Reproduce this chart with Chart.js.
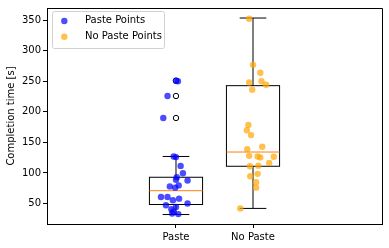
<!DOCTYPE html>
<html>
<head>
<meta charset="utf-8">
<script src="https://cdn.jsdelivr.net/npm/chart.js@4"></script>
<style>
  html, body { margin: 0; padding: 0; background: #fff; }
  #wrap { width: 389px; height: 248px; }
</style>
</head>
<body>
<div id="wrap"><canvas id="chart" width="389" height="248"></canvas></div>
<script>
const categories = ['Paste', 'No Paste'];
const yTicks = [50, 100, 150, 200, 250, 300, 350];

// completion times and horizontal jitter (in category units)
const pasteTimes = [127, 126, 111.6, 99.6, 93, 89, 87.8, 79.7, 78, 76, 60.7, 60.7, 58, 55.4, 47.3, 50, 44.5, 40.8, 36.5, 32.7, 33.8, 251, 250, 226, 190];
const pasteJitter = [-0.03, 0.0, 0.06, 0.09, 0.01, 0.0, 0.15, 0.035, -0.08, -0.01, -0.195, -0.11, 0.04, -0.04, -0.13, 0.15, 0.0, -0.06, -0.035, 0.03, -0.05, 0.0, 0.025, -0.11, -0.165];
const noPasteTimes = [352.4, 277, 264, 248, 250, 244.5, 236.4, 178.5, 170, 162, 139, 143, 128, 127, 125.5, 126.6, 116.5, 111, 112, 94.7, 98.6, 85, 76, 42];
const noPasteJitter = [-0.05, 0.0, 0.095, -0.05, 0.11, 0.17, -0.01, -0.06, -0.08, -0.025, -0.075, 0.12, -0.05, 0.06, 0.095, 0.27, 0.21, -0.04, 0.07, -0.035, 0.06, 0.04, 0.04, -0.165];

// box statistics per category
const boxQ1 = [48.4, 111];
const boxMedian = [71, 134.3];
const boxQ3 = [93, 242.9];
const whiskerLow = [32, 42];
const whiskerHigh = [127, 353.6];
const fliers = [[190, 226, 251], []];

const toPoints = (times, jitter, pos) => times.map((t, i) => ({ x: pos + jitter[i], y: t }));
const flierPoints = [];
fliers.forEach((list, i) => list.forEach(v => flierPoints.push({ x: i + 1, y: v })));

const FONT = 'DejaVu Sans';

const boxPlugin = {
  id: 'boxes',
  beforeDatasetsDraw(chart) {
    const ctx = chart.ctx, xs = chart.scales.x, ys = chart.scales.y;
    const halfBox = 0.345, halfCap = 0.173;
    ctx.save();
    ctx.lineWidth = 1;
    categories.forEach((c, i) => {
      const pos = i + 1;
      const xl = xs.getPixelForValue(pos - halfBox), xr = xs.getPixelForValue(pos + halfBox);
      const xc = xs.getPixelForValue(pos);
      const cl = xs.getPixelForValue(pos - halfCap), cr = xs.getPixelForValue(pos + halfCap);
      const q1 = ys.getPixelForValue(boxQ1[i]), q3 = ys.getPixelForValue(boxQ3[i]);
      const med = ys.getPixelForValue(boxMedian[i]);
      const lo = ys.getPixelForValue(whiskerLow[i]), hi = ys.getPixelForValue(whiskerHigh[i]);
      ctx.strokeStyle = '#000';
      ctx.strokeRect(xl, q3, xr - xl, q1 - q3);
      ctx.beginPath();
      ctx.moveTo(xc, q3); ctx.lineTo(xc, hi);
      ctx.moveTo(xc, q1); ctx.lineTo(xc, lo);
      ctx.moveTo(cl, hi); ctx.lineTo(cr, hi);
      ctx.moveTo(cl, lo); ctx.lineTo(cr, lo);
      ctx.stroke();
      ctx.strokeStyle = '#ff7f0e';
      ctx.beginPath();
      ctx.moveTo(xl, med); ctx.lineTo(xr, med);
      ctx.stroke();
    });
    ctx.restore();
  },
  afterDraw(chart) {
    const ctx = chart.ctx, a = chart.chartArea;
    ctx.save();
    // top and right spines
    ctx.strokeStyle = '#000';
    ctx.lineWidth = 1;
    ctx.beginPath();
    ctx.moveTo(a.left, a.top + 0.5); ctx.lineTo(a.right + 0.5, a.top + 0.5);
    ctx.lineTo(a.right + 0.5, a.bottom);
    ctx.stroke();
    // legend in upper-left
    const lx = 52.5, ly = 11.5, lw = 112, lh = 37;
    ctx.fillStyle = 'rgba(255,255,255,0.8)';
    ctx.strokeStyle = '#d0d0d0';
    ctx.beginPath();
    ctx.roundRect(lx, ly, lw, lh, 2);
    ctx.fill(); ctx.stroke();
    const items = chart.data.datasets.filter(d => d.showInLegend);
    ctx.font = '10px "' + FONT + '"';
    ctx.textBaseline = 'middle';
    items.forEach((d, i) => {
      const y = 20.5 + i * 15.7;
      ctx.fillStyle = d.backgroundColor;
      ctx.beginPath();
      ctx.arc(64.3, y + 0.5, 3.2, 0, Math.PI * 2);
      ctx.fill();
      ctx.fillStyle = '#000';
      ctx.fillText(d.label, 85, y);
    });
    ctx.restore();
  }
};

new Chart(document.getElementById('chart'), {
  type: 'scatter',
  data: {
    datasets: [
      {
        label: 'Fliers',
        data: flierPoints,
        pointRadius: 2.7,
        pointBorderWidth: 1,
        borderColor: '#000',
        backgroundColor: 'rgba(0,0,0,0)',
        order: 3
      },
      {
        label: 'Paste Points',
        showInLegend: true,
        data: toPoints(pasteTimes, pasteJitter, 1),
        pointRadius: 3.2,
        borderWidth: 0,
        backgroundColor: 'rgba(0,0,255,0.7)',
        order: 2
      },
      {
        label: 'No Paste Points',
        showInLegend: true,
        data: toPoints(noPasteTimes, noPasteJitter, 2),
        pointRadius: 3.2,
        borderWidth: 0,
        backgroundColor: 'rgba(255,165,0,0.7)',
        order: 1
      }
    ]
  },
  options: {
    responsive: false,
    animation: false,
    events: [],
    layout: { padding: { left: 0, top: 6, right: 7, bottom: 0 } },
    plugins: { legend: { display: false }, tooltip: { enabled: false } },
    scales: {
      x: {
        type: 'linear',
        min: -0.675,
        max: 3.675,
        afterBuildTicks: (axis) => { axis.ticks = categories.map((c, i) => ({ value: i + 1 })); },
        afterFit: (axis) => { axis.height = 24; },
        ticks: {
          callback: (v) => categories[v - 1],
          color: '#000',
          font: { family: FONT, size: 10 },
          padding: 3,
          maxRotation: 0
        },
        grid: { drawOnChartArea: false, drawTicks: true, tickLength: 4, color: '#000' },
        border: { display: true, color: '#000' }
      },
      y: {
        min: 16.5,
        max: 370,
        afterBuildTicks: (axis) => { axis.ticks = yTicks.map(v => ({ value: v })); },
        afterFit: (axis) => { axis.width = 47; },
        ticks: {
          color: '#000',
          font: { family: FONT, size: 10 },
          padding: 2
        },
        title: {
          display: true,
          text: 'Completion time [s]',
          color: '#000',
          font: { family: FONT, size: 10 },
          padding: { top: 5, bottom: 0 }
        },
        grid: { drawOnChartArea: false, drawTicks: true, tickLength: 4, color: '#000' },
        border: { display: true, color: '#000' }
      }
    }
  },
  plugins: [boxPlugin]
});
</script>
</body>
</html>
